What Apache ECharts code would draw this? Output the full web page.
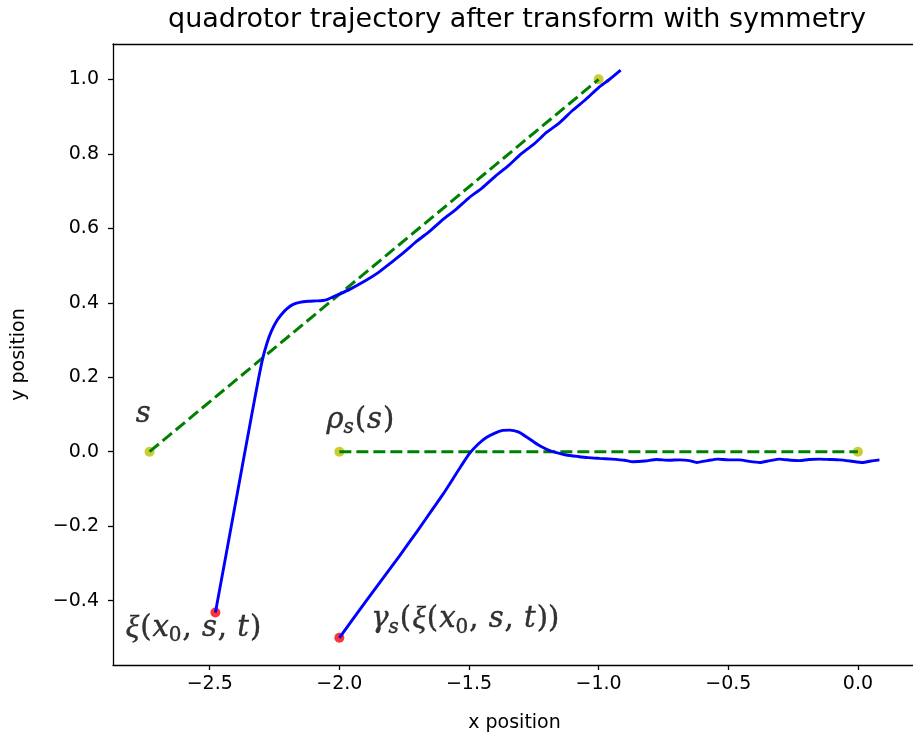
<!DOCTYPE html>
<html>
<head>
<meta charset="utf-8">
<script src="https://cdn.jsdelivr.net/npm/echarts@6/dist/echarts.min.js"></script>
<style>
  html, body { margin: 0; padding: 0; background: #fff; }
  #chart { width: 913px; height: 740px; }
</style>
</head>
<body>
<div id="chart"></div>
<script>
// reference segment s and its transformed copy rho_s(s)
const sLine = [[-2.732, 0.0], [-1.0, 1.0]];
const rhoLine = [[-2.0, 0.0], [0.0, 0.0]];

// original quadrotor trajectory xi(x0, s, t)
const xiTraj = [
  [-2.478, -0.432], [-2.440, -0.288], [-2.410, -0.174], [-2.372, -0.030],
  [-2.340, 0.091], [-2.314, 0.188], [-2.295, 0.252], [-2.278, 0.294],
  [-2.262, 0.324], [-2.240, 0.353], [-2.220, 0.371], [-2.204, 0.383],
  [-2.180, 0.395], [-2.153, 0.401], [-2.120, 0.404], [-2.090, 0.405],
  [-2.064, 0.406], [-2.045, 0.409], [-2.026, 0.415], [-2.000, 0.423],
  [-1.960, 0.436], [-1.900, 0.459], [-1.850, 0.481], [-1.800, 0.508],
  [-1.750, 0.536], [-1.700, 0.566], [-1.650, 0.593], [-1.600, 0.624],
  [-1.550, 0.651], [-1.500, 0.682], [-1.450, 0.708], [-1.400, 0.739],
  [-1.350, 0.767], [-1.300, 0.799], [-1.250, 0.826], [-1.200, 0.858],
  [-1.150, 0.884], [-1.100, 0.917], [-1.050, 0.946], [-1.000, 0.978],
  [-0.960, 0.999], [-0.915, 1.025]
];

// trajectory after the symmetry transform gamma_s(xi(x0, s, t))
const gammaTraj = [
  [-2.000, -0.500], [-1.900, -0.404], [-1.800, -0.310], [-1.767, -0.279],
  [-1.700, -0.214], [-1.639, -0.153], [-1.600, -0.114], [-1.562, -0.073],
  [-1.530, -0.038], [-1.497, -0.004], [-1.465, 0.020], [-1.433, 0.038],
  [-1.400, 0.050], [-1.370, 0.057], [-1.343, 0.058], [-1.310, 0.053],
  [-1.279, 0.040], [-1.250, 0.026], [-1.220, 0.013], [-1.189, 0.003],
  [-1.155, -0.004], [-1.125, -0.009], [-1.080, -0.013], [-1.040, -0.016],
  [-0.996, -0.018], [-0.950, -0.020], [-0.900, -0.023], [-0.868, -0.027],
  [-0.820, -0.025], [-0.777, -0.021], [-0.730, -0.023], [-0.688, -0.022],
  [-0.650, -0.024], [-0.622, -0.029], [-0.580, -0.024], [-0.541, -0.020],
  [-0.500, -0.022], [-0.456, -0.022], [-0.420, -0.026], [-0.379, -0.029],
  [-0.340, -0.024], [-0.302, -0.020], [-0.260, -0.023], [-0.225, -0.024],
  [-0.190, -0.021], [-0.148, -0.020], [-0.110, -0.021], [-0.071, -0.022],
  [-0.030, -0.025], [0.018, -0.029], [0.050, -0.025], [0.083, -0.022]
];

const xTicks = [-2.5, -2.0, -1.5, -1.0, -0.5, 0.0];
const yTicks = [-0.4, -0.2, 0.0, 0.2, 0.4, 0.6, 0.8, 1.0];

// math labels: [x, y, rich text]
const annotations = [
  [-2.785, 0.100, '{i|s}'],
  [-2.050, 0.085, '{i|ρ}{b|s}{n|(}{i|s}{n|)}'],
  [-2.825, -0.474, '{g|ξ}{n|(}{i|x}{bn|0}{n|, }{i|s}{n|, }{i|t}{n|)}'],
  [-1.877, -0.452, '{i|γ}{b|s}{n|(}{g|ξ}{n|(}{i|x}{bn|0}{n|, }{i|s}{n|, }{i|t}{n|))}']
];

const fmt = v => v.toFixed(1).replace('-', '\u2212');
const mathFont = 'DejaVu Serif';
const axisText = { fontFamily: 'DejaVu Sans', fontSize: 19, color: '#000' };
const spine = { color: '#000', width: 1.3 };
const ink = { color: '#000', textBorderColor: '#000', textBorderWidth: 0.4 };

const chart = echarts.init(document.getElementById('chart'));
chart.setOption({
  animation: false,
  title: {
    text: 'quadrotor trajectory after transform with symmetry',
    left: 512,
    textAlign: 'center',
    top: 1,
    textStyle: { fontFamily: 'DejaVu Sans', fontSize: 27, fontWeight: 'normal', color: '#000' }
  },
  grid: {
    left: 113, right: -3, top: 44, bottom: 75,
    outerBoundsMode: 'none'
  },
  xAxis: [
    {
      type: 'value', min: -2.873, max: 0.224,
      name: 'x position', nameLocation: 'middle', nameGap: 49,
      nameTextStyle: axisText,
      axisLine: { onZero: false, lineStyle: spine },
      axisTick: { customValues: xTicks, length: 5, lineStyle: spine },
      axisLabel: Object.assign({ customValues: xTicks, formatter: fmt, margin: 10 }, axisText),
      splitLine: { show: false }
    },
    {
      // top spine only
      type: 'value', position: 'top', min: -2.873, max: 0.224,
      axisLine: { onZero: false, lineStyle: spine },
      axisTick: { show: false }, axisLabel: { show: false }, splitLine: { show: false }
    }
  ],
  yAxis: {
    type: 'value', min: -0.573, max: 1.095,
    name: 'y position', nameLocation: 'middle', nameGap: 84,
    nameTextStyle: axisText,
    axisLine: { onZero: false, lineStyle: spine },
    axisTick: { customValues: yTicks, length: 5, lineStyle: spine },
    axisLabel: Object.assign({ customValues: yTicks, formatter: fmt, margin: 14 }, axisText),
    splitLine: { show: false }
  },
  series: [
    {
      type: 'line', data: sLine, symbol: 'none',
      lineStyle: { color: '#008000', width: 3, type: [12, 5] }
    },
    {
      type: 'line', data: rhoLine, symbol: 'none',
      lineStyle: { color: '#008000', width: 3, type: [12, 5] }
    },
    {
      type: 'line', data: xiTraj, symbol: 'none', smooth: 0.2,
      lineStyle: { color: '#0000ff', width: 2.9 }
    },
    {
      type: 'line', data: gammaTraj, symbol: 'none', smooth: 0.2,
      lineStyle: { color: '#0000ff', width: 2.9 }
    },
    {
      type: 'scatter', symbolSize: 10,
      data: [sLine[0], sLine[1], rhoLine[0], rhoLine[1]],
      itemStyle: { color: '#bfbf00' }
    },
    {
      type: 'scatter', symbolSize: 10,
      data: [xiTraj[0], gammaTraj[0]],
      itemStyle: { color: '#ff0000' }
    },
    {
      type: 'scatter', symbolSize: 0, silent: true,
      data: annotations.map(a => ({ value: [a[0], a[1]], text: a[2] })),
      label: {
        show: true, position: 'right', distance: 0, color: '#000',
        formatter: p => p.data.text,
        rich: {
          i: Object.assign({ fontFamily: mathFont, fontStyle: 'italic', fontSize: 29, lineHeight: 36 }, ink),
          g: Object.assign({ fontFamily: 'Liberation Serif', fontStyle: 'italic', fontSize: 32, lineHeight: 36 }, ink),
          n: Object.assign({ fontFamily: mathFont, fontSize: 29, lineHeight: 36, padding: [0, 1, 0, 1] }, ink),
          b: Object.assign({ fontFamily: mathFont, fontStyle: 'italic', fontSize: 20, lineHeight: 22, verticalAlign: 'bottom' }, ink),
          bn: Object.assign({ fontFamily: mathFont, fontSize: 20, lineHeight: 22, verticalAlign: 'bottom' }, ink)
        }
      }
    }
  ]
});
</script>
</body>
</html>
